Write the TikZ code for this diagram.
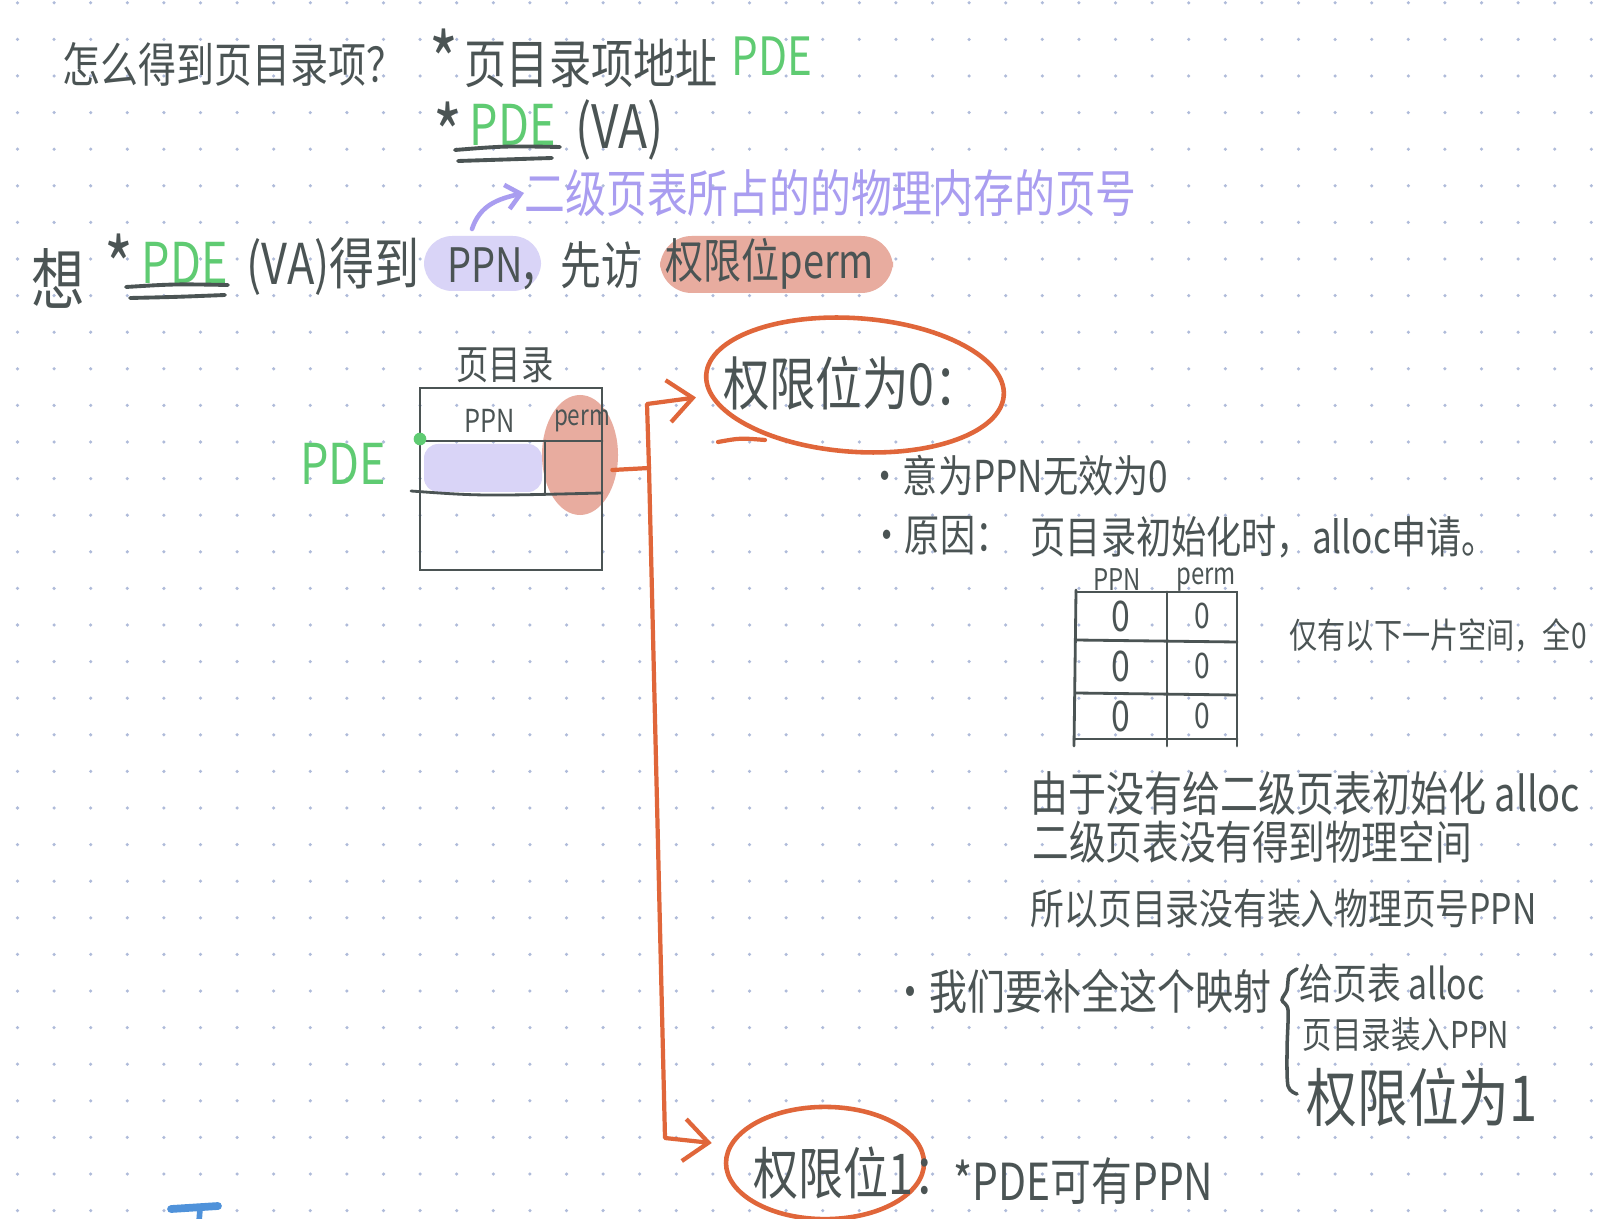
\documentclass[tikz,border=0pt]{standalone}
\usepackage{fontspec}
\setmainfont{Noto Sans CJK SC}[FakeStretch=0.8]
\usepackage{tikz}
\usetikzlibrary{arrows.meta,positioning,shapes.geometric}
\definecolor{ink}{HTML}{4B5454}
\definecolor{pdegreen}{HTML}{5FCB72}
\definecolor{lavender}{HTML}{D9D4F7}
\definecolor{hintviolet}{HTML}{A99DF0}
\definecolor{salmon}{HTML}{E8AC9F}
\definecolor{rust}{HTML}{E0663A}
\definecolor{griddot}{HTML}{AFBBDA}
\definecolor{penblue}{HTML}{4F92DA}
\newcommand{\handsize}[1]{\fontsize{#1pt}{#1pt}\selectfont}
\tikzset{
    %Define style for hand written text
    note/.style={
           text=ink,
           inner sep=0pt,
           anchor=west,
           font=\handsize{#1}},
    note/.default=12,
    %Define style for the page directory box
    pdbox/.style={
           rectangle,
           draw=ink, line width=0.7pt,
           minimum width=51.8pt,
           minimum height=51.8pt,
           inner sep=0pt},
    ring/.style={
           ellipse,
           draw=rust, line width=1.3pt,
           inner sep=0pt},
    % Define line styles
    pen/.style={
           draw=rust,
           line width=1.2pt,
           line cap=round,
           line join=round},
    pil/.style={
           pen,
           -{Straight Barb[length=7pt,width=12pt]}},
    ul/.style={
           draw=ink,
           line width=1.1pt,
           line cap=round},
    rule/.style={
           draw=ink,
           line width=0.8pt,
           line cap=round}
}
\begin{document}
\begin{tikzpicture}[x=0.01cm,y=-0.01cm]
\useasboundingbox (0,0) rectangle (1610,1219);
\clip (0,0) rectangle (1610,1219);
\fill[white] (0,0) rectangle (1610,1219);
% dotted paper
\foreach \i in {0,...,43}
  \foreach \j in {0,...,33}
    \fill[griddot] (17.5+36.6*\i,2.8+36.6*\j) circle (0.5pt);

% highlighter
\fill[lavender, rounded corners=8pt] (424,236) rectangle (541,291);
\fill[salmon, rounded corners=9pt] (660,236) rectangle (893,293);
\fill[lavender, rounded corners=4pt] (424,444) rectangle (542,492);
\fill[salmon] (580,455) ellipse [x radius=38, y radius=60];

% first lines
\node[note=13.5] (howq) at (62,64) {怎么得到页目录项？};
\node[note=22] (star1) at (429,60) {*};
\node[note=15] (pdeaddr) at (464,64) {页目录项地址};
\node[note=15, text=pdegreen] (pdetop) at (731,56) {PDE};
\node[note=22] (star2) at (433,133) {*};
\node[note=16, text=pdegreen] (pdemid) at (469,125) {PDE};
\node[note=17] (vamid) at (575,130) {(VA)};
\draw[ul] (455,150) .. controls (505,146) .. (560,147);
\draw[ul] (458,161) .. controls (505,159) .. (552,158);

% second level table hint
\node[note=14.5, text=hintviolet] (ptnote) at (524,193) {二级页表所占的的物理内存的页号};
\coordinate (hinttail) at (472,229);
\draw[hintviolet, line width=1.3pt, line cap=round, -{Straight Barb[length=4pt,width=7pt]}]
  (hinttail) .. controls (480,205) and (498,199) .. (ptnote.west);

% want line
\node[note=19] (want) at (31,278) {想};
\node[note=22] (star3) at (104,265) {*};
\node[note=16, text=pdegreen] (pdelow) at (141,263) {PDE};
\node[note=16] (vaget) at (246,266) {(VA)得到};
\node[note=13.5] (ppn) at (447,265) {PPN};
\node[note=14.5] (visit) at (519,266) {，先访};
\node[note=13.5] (perm) at (665,264) {权限位perm};
\draw[ul] (126,287) .. controls (175,284) .. (228,285);
\draw[ul] (130,298) .. controls (175,297) .. (225,295);

% page directory
\node[pdbox] (pd) at (511,479) {};
\node[note=11.5, above=1pt of pd, xshift=-1.7pt] (pdlabel) {页目录};
\draw[rule] (420,441) -- (602,441);
\draw[rule] (411,491) .. controls (480,496) .. (602,493);
\draw[rule] (545,441) -- (545,493);
\node[note=9, anchor=center] (pdppn) at (490,421) {PPN};
\node[note=8, anchor=center] (pdperm) at (582,421) {perm};
\fill[pdegreen] (420,439) circle (1.8pt);
\node[note=16, text=pdegreen, left=9pt of pd, yshift=4.3pt] (pdebig) {PDE};

% perm = 0
\node[ring, minimum width=84.8pt, minimum height=38pt, rotate=-4] (zero) at (855,385) {};
\draw[pen] (718,442) .. controls (740,438) .. (765,440);
\node[note=16.5, anchor=center] (zerotext) at (852,383) {权限位为0：};
\node[note=12.5] (meaning) at (867,476) {•意为PPN无效为0};
\node[note=12.5] (reason) at (869,536) {•原因：};
\node[note=12.5] (reasontext) at (1030,537) {页目录初始化时，alloc申请。};

% empty table
\draw[rule] (1076,592) -- (1237,592) -- (1237,746);
\draw[rule] (1076,590) -- (1074,746);
\draw[rule] (1167,592) -- (1167,746);
\draw[rule] (1076,640) -- (1237,642);
\draw[rule] (1076,693) -- (1237,695);
\draw[rule] (1074,739) -- (1237,739);
\node[note=8.5, anchor=center] (tabppn) at (1117,580) {PPN};
\node[note=8.5, anchor=center] (tabperm) at (1206,580) {perm};
\foreach \r/\y in {1/616,2/666,3/716} {
  \node[note=12, anchor=center] (ppncell\r) at (1121,\y) {0};
  \node[note=10, anchor=center] (permcell\r) at (1202,\y) {0};
}
\node[note=10] (onlyzero) at (1289,635) {仅有以下一片空间，全0};

\node[note=13.5] (because) at (1030,793) {由于没有给二级页表初始化 alloc};
\node[note=13] (nospace) at (1032,842) {二级页表没有得到物理空间};
\node[note=12] (noppn) at (1030,909) {所以页目录没有装入物理页号PPN};

% what to do
\node[note=13.5] (todo) at (891,991) {•我们要补全这个映射};
\draw[rule, line width=1pt] plot[smooth] coordinates {(1297,969) (1289,975) (1287,990) (1282,1000) (1288,1010) (1287,1050) (1288,1086) (1297,1094)};
\node[note=12] (todoone) at (1299,984) {给页表 alloc};
\node[note=10.5] (todotwo) at (1302,1035) {页目录装入PPN};
\node[note=18] (todothree) at (1306,1097) {权限位为1};

% perm = 1
\node[ring, minimum width=56.3pt, minimum height=31.9pt] (one) at (825,1163) {};
\node[note=16, anchor=center] (onetext) at (856,1173) {权限位1：};
\node[note=14.5] (pdehas) at (953,1181) {*PDE可有PPN};

% arrows
\coordinate (tee) at (649,468);
\coordinate (bend) at (647,404);
\coordinate (foot) at (665,1138);
\draw[pen] ([shift={(9,-9)}]pd.east) -- (tee);
\draw[pil] (tee) -- (bend) -- ([shift={(-8,23)}]zero.west);
\draw[pil] (tee) -- (foot) -- ([shift={(-12,-20)}]one.west);

% stray pen mark
\draw[penblue, line width=2.2pt, line cap=round] (171,1209) .. controls (195,1208) .. (218,1206);
\draw[penblue, line width=1.6pt] (200,1209) -- (199,1222);
\end{tikzpicture}
\end{document}
